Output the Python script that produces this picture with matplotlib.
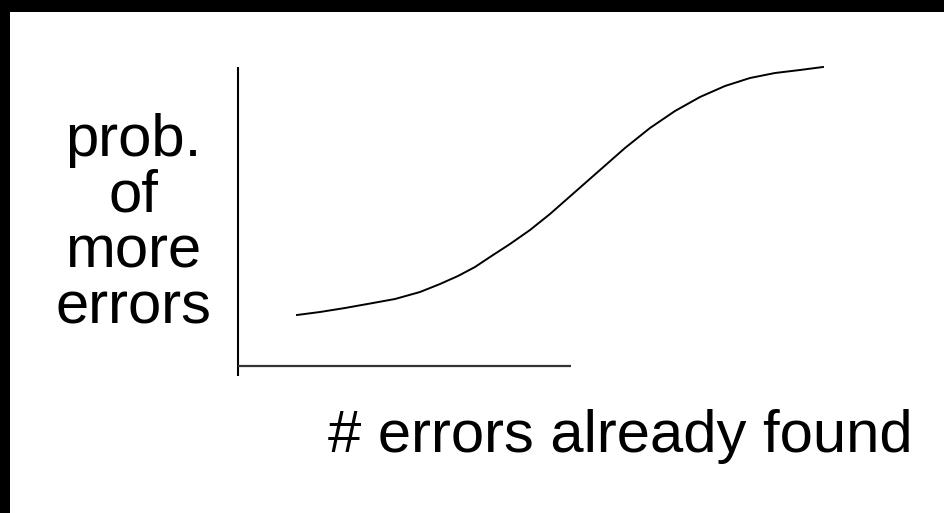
import matplotlib.pyplot as plt

# curve, in pixel coordinates of the 944x513 image
curve_x = [297, 320, 345, 373, 395, 420, 440, 458, 475, 490, 510, 530, 550, 575,
           600, 625, 650, 675, 700, 725, 750, 775, 800, 823]
curve_y = [315, 312, 308, 303, 299, 292, 284, 276, 267, 257, 244, 230, 214, 192,
           170, 148, 128, 111, 97, 86, 78, 73, 70, 67]

y_label = 'prob.\nof\nmore\nerrors'
x_label = '# errors already found'


def draw():
    fig = plt.figure(figsize=(9.44, 5.13), dpi=100)
    fig.patch.set_facecolor('black')
    ax = fig.add_axes([10 / 944, 0, 934 / 944, 501 / 513])
    ax.set_facecolor('white')
    ax.set_xlim(10, 944)
    ax.set_ylim(513, 12)
    for s in ax.spines.values():
        s.set_visible(False)
    ax.set_xticks([])
    ax.set_yticks([])

    # hand-drawn style axes
    ax.plot([238, 238], [67, 376], color='black', lw=1.5, solid_capstyle='butt')
    ax.plot([238, 571], [366, 366], color='#333333', lw=1.6, solid_capstyle='butt')

    ax.plot(curve_x, curve_y, color='black', lw=1.4)

    ax.text(133, 224, y_label, ha='center', va='center', fontsize=43,
            family='Liberation Sans', linespacing=1.02)
    ax.text(328, 452, x_label, ha='left', va='baseline', fontsize=43,
            family='Liberation Sans')

    fig.savefig('out.png', dpi=100, facecolor=fig.get_facecolor())


if __name__ == '__main__':
    draw()
